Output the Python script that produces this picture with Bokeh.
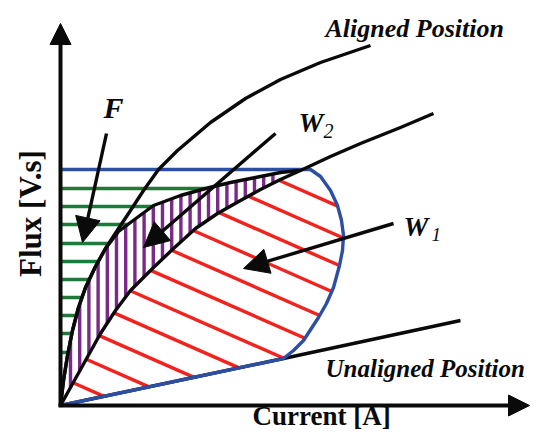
import numpy as np
from bokeh.plotting import figure
from bokeh.models import Range1d, Arrow, NormalHead, Label
from bokeh.embed import file_html
from bokeh.resources import INLINE

# ---- schematic curves (current, flux) in drawing units, origin at the axes' crossing ----
aligned_x = [0, 3, 7, 12, 18, 25, 35, 45, 58, 70, 83, 98, 117, 150, 185, 220, 260, 310]
aligned_y = [0, 25, 50, 75, 98, 118, 139, 157, 177, 195, 215, 236, 255, 283, 307, 326, 343, 360]

# upper boundary of W2 (left edge of the purple area)
w2_top_x = [0, 3, 7, 12, 18, 25, 35, 45, 58, 70, 93, 120, 145, 170, 195, 220, 238]
w2_top_y = [0, 25, 50, 75, 98, 118, 139, 157, 174, 183, 200, 210, 217, 223, 228, 233, 235]

# magnetisation curve between W2 and W1
mid_x = [0, 20, 40, 55, 70, 92, 113, 135, 157, 180, 200, 220, 240, 270, 300, 340, 373]
mid_y = [0, 36, 72, 95, 115, 137, 157, 177, 192, 205, 216, 226, 235, 249, 262, 278, 292]

# unaligned position
unal_x = [0, 223, 400]
unal_y = [0, 47, 85]

# operating loop (blue)
loop_x = [0, 250, 260, 270, 277, 281, 283, 282, 279, 273, 266, 258, 243, 233, 223, 0]
loop_y = [236, 236, 229, 215, 200, 185, 170, 155, 140, 118, 102, 88, 65, 55, 47, 0]

# hatch settings
green_levels = [217, 199, 181, 162, 144, 126, 108, 90, 72, 53]
purple_start, purple_step, purple_count = 10, 9.2, 23
red_slope = 0.44
red_start, red_step, red_count = 28.3, 29.3, 11

BLACK = "#0a0a0a"
BLUE = "#2d4fa3"
RED = "#f0231e"
GREEN = "#1c7a3a"
PURPLE = "#7a2a87"
LW = 3.4


def seg_poly(p1, p2, xs, ys):
    out = []
    x1, y1 = p1
    x2, y2 = p2
    for i in range(len(xs) - 1):
        x3, y3, x4, y4 = xs[i], ys[i], xs[i + 1], ys[i + 1]
        d = (x1 - x2) * (y3 - y4) - (y1 - y2) * (x3 - x4)
        if abs(d) < 1e-12:
            continue
        t = ((x1 - x3) * (y3 - y4) - (y1 - y3) * (x3 - x4)) / d
        u = -((x1 - x2) * (y1 - y3) - (y1 - y2) * (x1 - x3)) / d
        if 0 <= t <= 1 and 0 <= u <= 1:
            out.append((x1 + t * (x2 - x1), y1 + t * (y2 - y1)))
    return out


p = figure(width=531, height=430, x_range=Range1d(-60, 471), y_range=Range1d(-25, 405),
           output_backend="svg", toolbar_location=None, x_axis_type=None, y_axis_type=None,
           min_border=0, outline_line_color=None)
p.grid.visible = False
p.background_fill_color = "white"

# green hatch (F)
gx0, gy0, gx1, gy1 = [], [], [], []
for yv in green_levels:
    pts = seg_poly((0, yv), (400, yv), w2_top_x, w2_top_y)
    if pts:
        xe = min(q[0] for q in pts)
        gx0.append(0); gy0.append(yv); gx1.append(xe); gy1.append(yv)
p.segment(gx0, gy0, gx1, gy1, line_color=GREEN, line_width=LW)

# purple hatch (W2)
px0, py0, px1, py1 = [], [], [], []
for k in range(purple_count):
    xv = purple_start + purple_step * k
    top = seg_poly((xv, -10), (xv, 400), w2_top_x, w2_top_y)
    bot = seg_poly((xv, -10), (xv, 400), mid_x, mid_y)
    if top and bot:
        px0.append(xv); py0.append(top[0][1]); px1.append(xv); py1.append(bot[0][1])
p.segment(px0, py0, px1, py1, line_color=PURPLE, line_width=LW)

# red hatch (W1)
rx0, ry0, rx1, ry1 = [], [], [], []
lower_x, lower_y = loop_x[1:], loop_y[1:]
for k in range(red_count):
    b = red_start + red_step * k
    a1 = (-20, b + red_slope * 20)
    a2 = (420, b - red_slope * 420)
    s = seg_poly(a1, a2, mid_x, mid_y)
    if not s:
        continue
    sx, sy = min(s, key=lambda q: q[0])
    e = [q for q in seg_poly(a1, a2, lower_x, lower_y) if q[0] > sx + 0.5]
    if not e:
        continue
    ex, ey = min(e, key=lambda q: q[0])
    rx0.append(sx); ry0.append(sy); rx1.append(ex); ry1.append(ey)
p.segment(rx0, ry0, rx1, ry1, line_color=RED, line_width=LW)

# curves
p.line(unal_x, unal_y, line_color=BLACK, line_width=LW)
p.line(loop_x, loop_y, line_color=BLUE, line_width=LW, line_join="round")
p.line(aligned_x, aligned_y, line_color=BLACK, line_width=LW, line_join="round")
p.line(w2_top_x, w2_top_y, line_color=BLACK, line_width=LW, line_join="round")
p.line(mid_x, mid_y, line_color=BLACK, line_width=LW, line_join="round")

# pointer arrows
for (xs, ys, xe, ye) in [(46, 272, 22, 163), (215, 272, 83, 158), (333, 182, 183, 137)]:
    p.add_layout(Arrow(x_start=xs, y_start=ys, x_end=xe, y_end=ye, line_width=LW, line_color=BLACK,
                       end=NormalHead(size=25, fill_color=BLACK, line_color=BLACK, line_width=1)))

# axes arrows
p.add_layout(Arrow(x_start=0, y_start=-1, x_end=0, y_end=382, line_width=4, line_color=BLACK,
                   end=NormalHead(size=21, fill_color=BLACK, line_color=BLACK, line_width=1)))
p.add_layout(Arrow(x_start=-2, y_start=0, x_end=469, y_end=0, line_width=4, line_color=BLACK,
                   end=NormalHead(size=21, fill_color=BLACK, line_color=BLACK, line_width=1)))

FONT = "Liberation Serif"
def lab(x, y, t, size, style, **kw):
    p.add_layout(Label(x=x, y=y, text=t, text_font=FONT, text_font_size=f"{size}px",
                       text_font_style=style, text_color=BLACK, **kw))

lab(265, 377, "Aligned Position", 26, "bold italic", text_baseline="alphabetic")
lab(265, 37, "Unaligned Position", 25, "bold italic", text_baseline="alphabetic")
lab(192, -10, "Current [A]", 27, "bold", text_baseline="alphabetic")
lab(-30, 192, "Flux [V.s]", 31, "bold", text_baseline="alphabetic", text_align="center", angle=np.pi / 2)
lab(43, 298, "F", 30, "bold italic", text_baseline="alphabetic")
lab(238, 283, "W", 28, "bold italic", text_baseline="alphabetic")
lab(263, 275, "2", 20, "italic", text_baseline="alphabetic")
lab(343, 179, "W", 28, "bold italic", text_baseline="alphabetic")
lab(371, 171, "1", 19, "italic", text_baseline="alphabetic")

open("out.html", "w").write(file_html(p, INLINE))
